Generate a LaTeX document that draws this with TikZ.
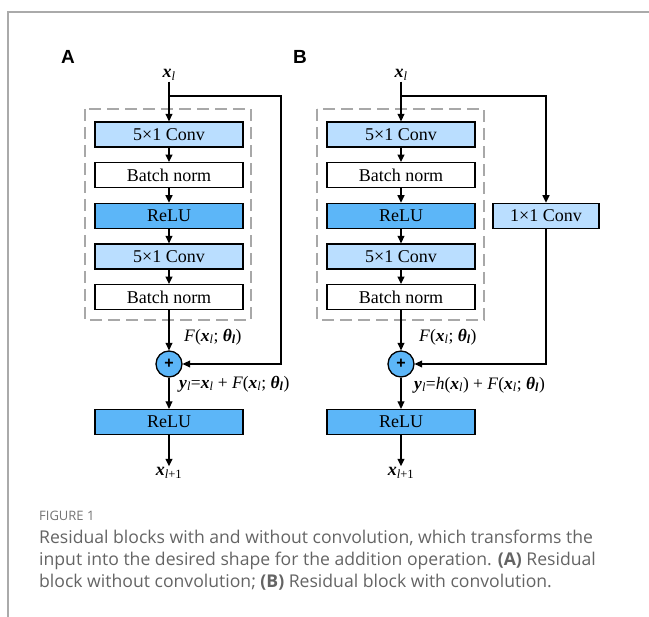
\documentclass[tikz,border=0pt]{standalone}
\usepackage{fontspec}
\setmainfont{Liberation Serif}
\newfontfamily\capfont{Open Sans}
\newfontfamily\panelfont{Liberation Sans}
\usetikzlibrary{arrows.meta}
\definecolor{convblue}{RGB}{186,222,255}
\definecolor{relublue}{RGB}{92,182,248}
\definecolor{dashgray}{RGB}{168,168,168}
\definecolor{framegray}{RGB}{170,170,170}
\definecolor{capgray}{RGB}{100,100,100}
\definecolor{fignogray}{RGB}{115,115,115}
% bold italic vector x, italic subscript helpers
\newcommand\bvx{\textbf{\textit{x}}}
\newcommand\bvy{\textbf{\textit{y}}}
\newcommand\bth{\textbf{\textit{θ}}}
\newcommand\lsub[1]{\textsubscript{#1}}
\newcommand\Fterm{\textit{F}(\bvx\lsub{\textit{l}}; \bth\lsub{\textbf{\textit{l}}})}
\begin{document}
\begin{tikzpicture}[x=1pt,y=-1pt,
  blk/.style={draw=black, line width=1.3pt, minimum width=148pt, minimum height=25pt,
    inner sep=0pt, font=\fontsize{18}{20}\selectfont},
  convbox/.style={blk, fill=convblue},
  relubox/.style={blk, fill=relublue},
  bnbox/.style={blk, fill=white},
  addnode/.style={circle, draw=black, line width=1.3pt, fill=relublue, minimum size=26pt,
    inner sep=0pt, font=\panelfont\bfseries\fontsize{16}{16}\selectfont},
  arr/.style={-{Triangle[length=7.5pt,width=7pt]}, line width=1.3pt},
  vlabel/.style={inner sep=1pt, font=\fontsize{18}{20}\selectfont},
  eqlabel/.style={inner sep=0pt, anchor=west, font=\fontsize{17.5}{20}\selectfont},
  dashbox/.style={draw=dashgray, line width=2pt, dash pattern=on 12pt off 6pt},
  panel/.style={font=\panelfont\bfseries\fontsize{19}{20}\selectfont},
]
\useasboundingbox (0,0) rectangle (649,617);

% page frame
\draw[framegray, line width=1.5pt] (8,617) -- (8,12) -- (649,12);

% panel letters
\node[panel] (pA) at (68,57) {A};
\node[panel] (pB) at (300,57) {B};

% ---------------- block A: identity shortcut ----------------
\draw[dashbox] (85,109) rectangle (251,320);
\node[vlabel] (axin) at (169,75) {\bvx\lsub{\textit{l}}};
\node[convbox] (a1) at (169,134.5) {5×1 Conv};
\node[bnbox]   (a2) at (169,175.2) {Batch norm};
\node[relubox] (a3) at (169,215.9) {ReLU};
\node[convbox] (a4) at (169,256.5) {5×1 Conv};
\node[bnbox]   (a5) at (169,297.2) {Batch norm};
\node[addnode] (aadd) at (169,364) {+};
\node[relubox] (a6) at (169,422) {ReLU};
\node[vlabel] (axout) at (169,473) {\bvx\lsub{\textit{l}+1}};
\coordinate (abr) at (169,96);
\coordinate (askip) at (281,96);

\draw[arr] (axin) -- (a1);
\draw[arr] (a1) -- (a2);
\draw[arr] (a2) -- (a3);
\draw[arr] (a3) -- (a4);
\draw[arr] (a4) -- (a5);
\draw[arr] (a5) -- (aadd);
\draw[arr] (aadd) -- (a6);
\draw[arr] (a6) -- (axout);
\draw[arr] (abr) -- (askip) -- (askip |- aadd) -- (aadd);

\node[eqlabel] (aF) at (184,337) {\Fterm};
\node[eqlabel] (aY) at (179,384) {\bvy\lsub{\textit{l}}=\bvx\lsub{\textit{l}} + \Fterm};

% ---------------- block B: 1x1 convolution shortcut ----------------
\draw[dashbox] (317,109) rectangle (484,320);
\node[vlabel] (bxin) at (401,75) {\bvx\lsub{\textit{l}}};
\node[convbox] (b1) at (401,134.5) {5×1 Conv};
\node[bnbox]   (b2) at (401,175.2) {Batch norm};
\node[relubox] (b3) at (401,215.9) {ReLU};
\node[convbox] (b4) at (401,256.5) {5×1 Conv};
\node[bnbox]   (b5) at (401,297.2) {Batch norm};
\node[convbox, minimum width=106pt] (bsc) at (546,215.9) {1×1 Conv};
\node[addnode] (badd) at (401,364) {+};
\node[relubox] (b6) at (401,422) {ReLU};
\node[vlabel] (bxout) at (401,473) {\bvx\lsub{\textit{l}+1}};
\coordinate (bbr) at (401,96);

\draw[arr] (bxin) -- (b1);
\draw[arr] (b1) -- (b2);
\draw[arr] (b2) -- (b3);
\draw[arr] (b3) -- (b4);
\draw[arr] (b4) -- (b5);
\draw[arr] (b5) -- (badd);
\draw[arr] (badd) -- (b6);
\draw[arr] (b6) -- (bxout);
\draw[arr] (bbr) -- (bbr -| bsc) -- (bsc);
\draw[arr] (bsc) -- (bsc |- badd) -- (badd);

\node[eqlabel] (bF) at (419,337) {\Fterm};
\node[eqlabel] (bY) at (414,385) {\bvy\lsub{\textit{l}}=\textit{h}(\bvx\lsub{\textit{l}}) + \Fterm};

% ---------------- caption ----------------
\node[anchor=west, inner sep=0pt, text=fignogray, font=\capfont\fontsize{13}{14}\selectfont]
  (figno) at (39,516) {FIGURE 1};
\node[anchor=north west, inner sep=0pt, text=capgray, align=left,
  font=\capfont\fontsize{17.6}{21.8}\selectfont] (cap) at (39,530)
  {Residual blocks with and without convolution, which transforms the\\
   input into the desired shape for the addition operation. \textbf{(A)} Residual\\
   block without convolution; \textbf{(B)} Residual block with convolution.};
\end{tikzpicture}
\end{document}
